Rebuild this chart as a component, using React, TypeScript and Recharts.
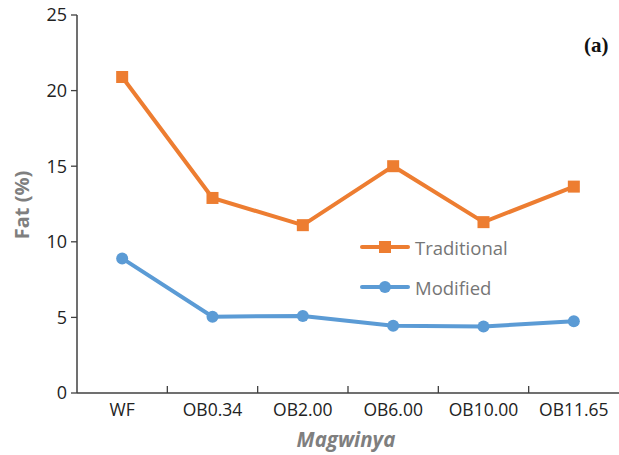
import { Line, LineChart, XAxis, YAxis } from "recharts";

const categories = ["WF", "OB0.34", "OB2.00", "OB6.00", "OB10.00", "OB11.65"];
const traditional = [20.9, 12.9, 11.1, 15.0, 11.3, 13.65];
const modified = [8.9, 5.05, 5.1, 4.45, 4.4, 4.75];
const yTicks = [0, 5, 10, 15, 20, 25];

const data = categories.map((name, i) => ({
  name,
  Traditional: traditional[i],
  Modified: modified[i],
}));

const W = 619;
const H = 455;
const PLOT_LEFT = 77;
const PLOT_RIGHT = 619;
const FONT = "'Open Sans', 'Noto Sans', sans-serif";
const AXIS = "#404040";
const ORANGE = "#ED7D31";
const BLUE = "#5B9BD5";

const band = (PLOT_RIGHT - PLOT_LEFT) / categories.length;

function XTick(props: any) {
  const { x, y, payload, index } = props;
  return (
    <g>
      <text
        x={x}
        y={y + 23}
        textAnchor="middle"
        fontSize={17.5}
        fontFamily={FONT}
        fill="#222"
      >
        {payload.value}
      </text>
      {index < categories.length - 1 ? (
        <line x1={x + band / 2} x2={x + band / 2} y1={y} y2={y - 7} stroke={AXIS} strokeWidth={1.3} />
      ) : null}
    </g>
  );
}

function LegendBox() {
  const items = [
    { name: "Traditional", color: ORANGE, shape: "square" },
    { name: "Modified", color: BLUE, shape: "circle" },
  ];
  return (
    <div style={{ display: "flex", flexDirection: "column", gap: 18 }}>
      {items.map((it) => (
        <div key={it.name} style={{ display: "flex", alignItems: "center", gap: 5, height: 22 }}>
          <svg width={50} height={14}>
            <line x1={2} x2={48} y1={7} y2={7} stroke={it.color} strokeWidth={4} strokeLinecap="round" />
            {it.shape === "square" ? (
              <rect x={19} y={1} width={12} height={12} fill={it.color} />
            ) : (
              <circle cx={25} cy={7} r={6} fill={it.color} />
            )}
          </svg>
          <span style={{ fontFamily: FONT, fontSize: 18.5, color: "#767676" }}>{it.name}</span>
        </div>
      ))}
    </div>
  );
}

function SquareDot(props: any) {
  const { cx, cy } = props;
  if (cx == null || cy == null) return null;
  return <rect x={cx - 6} y={cy - 6} width={12} height={12} fill={ORANGE} />;
}

export default function App() {
  return (
    <div style={{ position: "absolute", left: 0, top: 0, width: W, height: H, background: "#fff" }}>
      <LineChart
        width={W}
        height={H}
        data={data}
        margin={{ top: 15, right: 0, left: 0, bottom: 0 }}
      >
        <XAxis
          dataKey="name"
          height={62}
          padding={{ left: band / 2, right: band / 2 }}
          axisLine={{ stroke: AXIS, strokeWidth: 1.5 }}
          tickLine={false}
          tickSize={0}
          tickMargin={0}
          tick={<XTick />}
          interval={0}
          label={() => (
            <text
              x={346}
              y={447}
              textAnchor="middle"
              fontSize={20.5}
              fontWeight="bold"
              fontStyle="italic"
              fontFamily={FONT}
              fill="#7f7f7f"
            >
              Magwinya
            </text>
          )}
        />
        <YAxis
          width={PLOT_LEFT}
          domain={[0, 25]}
          ticks={yTicks}
          interval={0}
          axisLine={{ stroke: AXIS, strokeWidth: 1.5 }}
          tickLine={{ stroke: AXIS, strokeWidth: 1.3 }}
          tickSize={6}
          tickMargin={4}
          tick={{ fontSize: 18, fontFamily: FONT, fill: "#222" }}
          label={() => (
            <text
              x={21}
              y={205}
              transform="rotate(-90 21 205)"
              textAnchor="middle"
              dominantBaseline="central"
              fontSize={20}
              fontWeight="bold"
              fontFamily={FONT}
              fill="#7f7f7f"
            >
              Fat (%)
            </text>
          )}
        />
        <Line
          type="linear"
          dataKey="Traditional"
          stroke={ORANGE}
          strokeWidth={4}
          dot={<SquareDot />}
          activeDot={false}
          isAnimationActive={false}
        />
        <Line
          type="linear"
          dataKey="Modified"
          stroke={BLUE}
          strokeWidth={4}
          dot={{ r: 6, fill: BLUE, stroke: BLUE, strokeWidth: 0 }}
          activeDot={false}
          isAnimationActive={false}
        />
      </LineChart>
      <div style={{ position: "absolute", left: 360, top: 236 }}>
        <LegendBox />
      </div>
      <div
        style={{
          position: "absolute",
          left: 584,
          top: 33,
          fontFamily: "'Liberation Serif', 'DejaVu Serif', serif",
          fontWeight: "bold",
          fontSize: 21,
          color: "#111",
        }}
      >
        (a)
      </div>
    </div>
  );
}
